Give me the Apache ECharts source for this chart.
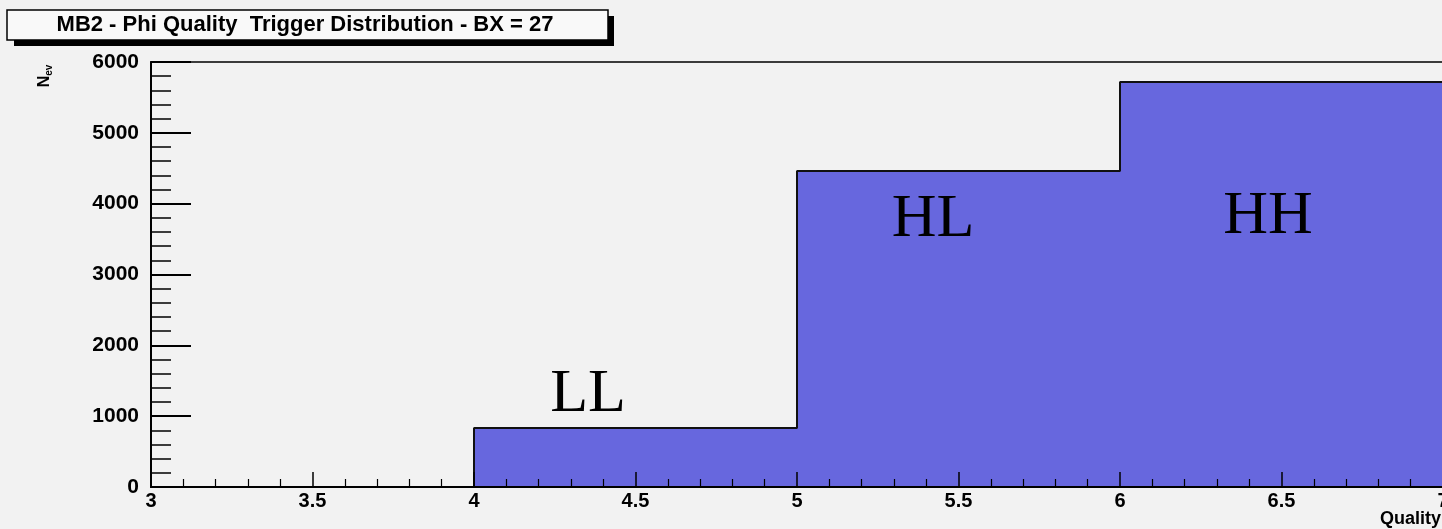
<!DOCTYPE html>
<html>
<head>
<meta charset="utf-8">
<script src="https://cdn.jsdelivr.net/npm/echarts@6/dist/echarts.min.js"></script>
<style>
html,body{margin:0;padding:0;background:#f2f2f2;}
#chart{width:1442px;height:529px;}
</style>
</head>
<body>
<div id="chart"></div>
<script>
// Data
const binLow = [3, 4, 5, 6];
const binWidth = 1;
const counts = [0, 833, 4461, 5718];
const regionLabels = ['LL', 'HL', 'HH'];
const titleText = 'MB2 - Phi Quality  Trigger Distribution - BX = 27';
const xName = 'Quality';

// Build histogram outline from bins
const outline = [];
binLow.forEach((lo, i) => {
  outline.push([lo, counts[i]]);
  outline.push([lo + binWidth, counts[i]]);
});

const chart = echarts.init(document.getElementById('chart'), null, {renderer: 'canvas'});
const boldFont = 'Liberation Sans, Arial, sans-serif';
const serif = '62px Liberation Serif, Times New Roman, serif';

chart.setOption({
  backgroundColor: '#f2f2f2',
  animation: false,
  grid: {
    left: 151, width: 1292, top: 62, height: 425,
    containLabel: false, outerBoundsMode: 'none',
    show: true, borderColor: '#000', borderWidth: 1.5, backgroundColor: 'transparent'
  },
  xAxis: {
    type: 'value', min: 3, max: 7, interval: 0.5, z: 5,
    axisLine: {show: true, onZero: false, lineStyle: {color: '#000', width: 2}},
    axisTick: {show: true, inside: true, length: 15, lineStyle: {color: '#000', width: 1.5}},
    minorTick: {show: true, splitNumber: 5, length: 8, lineStyle: {color: '#000', width: 1.2}},
    splitLine: {show: false},
    axisLabel: {color: '#000', fontFamily: boldFont, fontWeight: 'bold', fontSize: 20, margin: 4,
      formatter: v => String(v)}
  },
  yAxis: {
    type: 'value', min: 0, max: 6000, interval: 1000, z: 5,
    axisLine: {show: true, lineStyle: {color: '#000', width: 2}},
    axisTick: {show: true, inside: true, length: 40, lineStyle: {color: '#000', width: 1.8}},
    minorTick: {show: true, splitNumber: 5, length: 20, lineStyle: {color: '#000', width: 1.5}},
    splitLine: {show: false},
    axisLabel: {color: '#000', fontFamily: boldFont, fontWeight: 'bold', fontSize: 21, margin: 12,
      formatter: v => String(v)}
  },
  series: [{
    type: 'line',
    data: outline,
    showSymbol: false,
    symbol: 'none',
    z: 2,
    lineStyle: {color: '#111', width: 2},
    areaStyle: {color: '#6767de', opacity: 1, origin: 'start'}
  }],
  graphic: [
    {type: 'rect', shape: {x: 14, y: 16, width: 600, height: 30}, style: {fill: '#000'}, z: 10},
    {type: 'rect', shape: {x: 7, y: 10, width: 601, height: 30}, style: {fill: '#f9f9f9', stroke: '#000', lineWidth: 1.5}, z: 11},
    {type: 'text', x: 305, y: 25, z: 12, style: {text: titleText, fill: '#000', font: 'bold 22px ' + boldFont, textAlign: 'center', textVerticalAlign: 'middle'}},
    {type: 'text', x: 45, y: 76, rotation: Math.PI / 2, z: 12,
      style: {text: '{n|N}{s|ev}', textAlign: 'center', textVerticalAlign: 'middle',
        rich: {n: {fontSize: 16, fontWeight: 'bold', fontFamily: boldFont, fill: '#000'},
               s: {fontSize: 10, fontWeight: 'bold', fontFamily: boldFont, fill: '#000', padding: [9, 0, 0, 0]}}}},
    {type: 'text', x: 1441, y: 519, z: 12, style: {text: xName, fill: '#000', font: 'bold 18px ' + boldFont, textAlign: 'right', textVerticalAlign: 'middle'}},
    {type: 'text', x: 588, y: 426, z: 12, style: {text: regionLabels[0], fill: '#000', font: serif, textAlign: 'center', textVerticalAlign: 'bottom'}},
    {type: 'text', x: 933, y: 251, z: 12, style: {text: regionLabels[1], fill: '#000', font: serif, textAlign: 'center', textVerticalAlign: 'bottom'}},
    {type: 'text', x: 1268, y: 248, z: 12, style: {text: regionLabels[2], fill: '#000', font: serif, textAlign: 'center', textVerticalAlign: 'bottom'}}
  ]
});
</script>
</body>
</html>
